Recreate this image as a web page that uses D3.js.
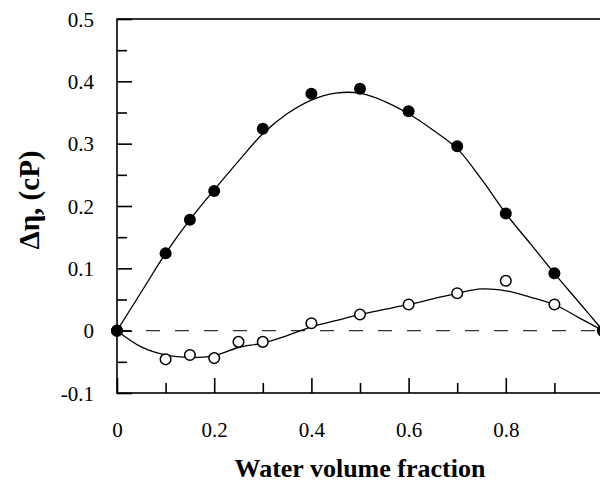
<!DOCTYPE html>
<html>
<head>
<meta charset="utf-8">
<script src="https://cdn.jsdelivr.net/npm/d3@7"></script>
<style>
  body { margin: 0; background: #fff; }
  svg { display: block; }
  svg text { font-family: "Liberation Serif", "Times New Roman", Times, "DejaVu Serif", serif; }
</style>
</head>
<body>
<div id="chart"></div>
<script>
// measured points
const fracX = [0, 0.1, 0.15, 0.2, 0.25, 0.3, 0.4, 0.5, 0.6, 0.7, 0.8, 0.9, 1]
const filledX = [0, 0.1, 0.15, 0.2, 0.3, 0.4, 0.5, 0.6, 0.7, 0.8, 0.9, 1]
const filledY = [0, 0.124, 0.178, 0.224, 0.324, 0.380, 0.388, 0.352, 0.296, 0.188, 0.092, 0]
const openY = [0, -0.046, -0.039, -0.044, -0.018, -0.018, 0.012, 0.026, 0.042, 0.060, 0.080, 0.042, 0]

// fitted curves
const fitX = [0, 0.05, 0.1, 0.15, 0.2, 0.25, 0.3, 0.35, 0.4, 0.45, 0.5, 0.55, 0.6, 0.65, 0.7, 0.75, 0.8, 0.85, 0.9, 0.95, 1]
const fitFilled = [0, 0.062, 0.124, 0.178, 0.226, 0.272, 0.316, 0.348, 0.370, 0.381, 0.381, 0.368, 0.348, 0.322, 0.292, 0.243, 0.188, 0.140, 0.092, 0.046, 0]
const fitOpen = [0, -0.026, -0.039, -0.043, -0.040, -0.027, -0.020, -0.008, 0.006, 0.016, 0.026, 0.034, 0.042, 0.051, 0.060, 0.067, 0.064, 0.054, 0.042, 0.021, 0]

const xTicks = [0, 0.2, 0.4, 0.6, 0.8, 1]
const xTickLabels = ['0', '0.2', '0.4', '0.6', '0.8', '1']
const xMinor = [0.1, 0.3, 0.5, 0.7, 0.9]
const yTicks = [-0.1, 0, 0.1, 0.2, 0.3, 0.4, 0.5]
const yTickLabels = ['-0.1', '0', '0.1', '0.2', '0.3', '0.4', '0.5']
const yMinor = [-0.05, 0.05, 0.15, 0.25, 0.35, 0.45]

const width = 600
const height = 482
const margin = {top: 19, left: 117}
const plotW = 486
const plotH = 374

const x = d3.scaleLinear().domain([0, 1]).range([margin.left, margin.left + plotW])
const y = d3.scaleLinear().domain([-0.1, 0.5]).range([margin.top + plotH, margin.top])

const svg = d3.select('#chart').append('svg')
  .attr('width', width)
  .attr('height', height)

// zero line
svg.append('line')
  .attr('x1', x(0)).attr('x2', x(1))
  .attr('y1', y(0)).attr('y2', y(0))
  .attr('stroke', '#333')
  .attr('stroke-width', 1.4)
  .attr('stroke-dasharray', '14,15')

// fitted lines
const line = d3.line()
  .x(d => x(d[0]))
  .y(d => y(d[1]))
  .curve(d3.curveCatmullRom.alpha(0.5))

svg.append('path')
  .datum(fitX.map((v, i) => [v, fitFilled[i]]))
  .attr('d', line)
  .attr('fill', 'none')
  .attr('stroke', '#000')
  .attr('stroke-width', 1.3)

svg.append('path')
  .datum(fitX.map((v, i) => [v, fitOpen[i]]))
  .attr('d', line)
  .attr('fill', 'none')
  .attr('stroke', '#000')
  .attr('stroke-width', 1.3)

// frame
svg.append('rect')
  .attr('x', x(0)).attr('y', y(0.5))
  .attr('width', x(1) - x(0)).attr('height', y(-0.1) - y(0.5))
  .attr('fill', 'none')
  .attr('stroke', '#000')
  .attr('stroke-width', 1.6)

// axes, ticks pointing inward
const yAxis = svg.append('g')
  .attr('transform', 'translate(' + x(0) + ',0)')
  .call(d3.axisLeft(y).tickValues(yTicks).tickSize(-15).tickSizeOuter(0)
    .tickFormat((d, i) => yTickLabels[i]))
svg.append('g')
  .attr('transform', 'translate(' + x(0) + ',0)')
  .call(d3.axisLeft(y).tickValues(yMinor).tickSize(-10).tickSizeOuter(0).tickFormat(''))

const xAxis = svg.append('g')
  .attr('transform', 'translate(0,' + y(-0.1) + ')')
  .call(d3.axisBottom(x).tickValues(xTicks).tickSize(-15).tickSizeOuter(0)
    .tickFormat((d, i) => xTickLabels[i]))
svg.append('g')
  .attr('transform', 'translate(0,' + y(-0.1) + ')')
  .call(d3.axisBottom(x).tickValues(xMinor).tickSize(-10).tickSizeOuter(0).tickFormat(''))

svg.selectAll('.domain').remove()
svg.selectAll('.tick line').attr('stroke', '#000').attr('stroke-width', 1.6)

yAxis.selectAll('text')
  .attr('x', -23).attr('dy', null).attr('y', 7)
  .attr('font-size', 21).attr('fill', '#000')
xAxis.selectAll('text')
  .attr('y', 44).attr('dy', null)
  .attr('font-size', 21).attr('fill', '#000')

// markers
svg.append('g').selectAll('circle')
  .data(fracX.map((v, i) => [v, openY[i]]))
  .join('circle')
  .attr('cx', d => x(d[0]))
  .attr('cy', d => y(d[1]))
  .attr('r', 5.3)
  .attr('fill', '#fff')
  .attr('stroke', '#000')
  .attr('stroke-width', 1.5)

svg.append('g').selectAll('circle')
  .data(filledX.map((v, i) => [v, filledY[i]]))
  .join('circle')
  .attr('cx', d => x(d[0]))
  .attr('cy', d => y(d[1]))
  .attr('r', 6)
  .attr('fill', '#000')

// titles
svg.append('text')
  .attr('x', (x(0) + x(1)) / 2)
  .attr('y', 477)
  .attr('text-anchor', 'middle')
  .attr('font-weight', 'bold')
  .attr('font-size', 26)
  .text('Water volume fraction')

svg.append('text')
  .attr('transform', 'translate(39,' + 200 + ') rotate(-90)')
  .attr('text-anchor', 'middle')
  .attr('font-weight', 'bold')
  .attr('font-size', 29)
  .text('Δη, (cP)')
</script>
</body>
</html>
